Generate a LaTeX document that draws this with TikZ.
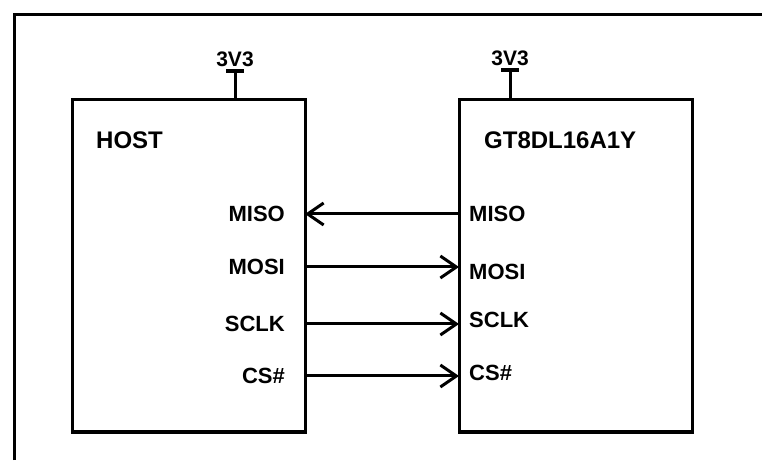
\documentclass[tikz,border=0pt]{standalone}
\usepackage{fontspec}
\setmainfont{Liberation Sans}
\usetikzlibrary{positioning, arrows.meta, calc}

\begin{document}
\begin{tikzpicture}[
    x=1pt, y=1pt,
    chipbox/.style={
        rectangle,
        draw,
        line width=3pt,
        outer sep=0pt,
        inner sep=0pt,
        minimum width=233pt,
        minimum height=332pt
    },
    chiptitle/.style={
        font=\fontsize{24}{28}\selectfont\bfseries,
        inner sep=0pt,
        anchor=west
    },
    pinlbl/.style={
        font=\fontsize{22}{26}\selectfont\bfseries,
        inner sep=0pt
    },
    pwrlbl/.style={
        font=\fontsize{21}{24}\selectfont\bfseries,
        inner sep=0pt
    },
    pwrbar/.style={
        rectangle,
        fill,
        inner sep=0pt,
        minimum width=18pt,
        minimum height=3.5pt
    },
    wire/.style={
        line width=3pt
    },
    sig/.style={
        >={Straight Barb[length=16pt,width=22pt]},
        ->,
        line width=3pt
    }
]
    \useasboundingbox (0,0) rectangle (762,460);

    % Frame
    \draw[wire] (14,0) -- (14,445) -- (762,445);

    % Chips
    \node[chipbox] (host) at (188.5,194) {};
    \node[chipbox, right=154pt of host] (chip) {};

    \node[chiptitle] (hostname) at ([xshift=24pt,yshift=-40pt]host.north west) {HOST};
    \node[chiptitle] (chipname) at ([xshift=25pt,yshift=-40pt]chip.north west) {GT8DL16A1Y};

    % Supply pins
    \node[pwrbar] (hbar) at ([xshift=163pt,yshift=29pt]host.north west) {};
    \node[pwrbar] (cbar) at ([xshift=51pt,yshift=30pt]chip.north west) {};
    \node[pwrlbl, above=2pt of hbar] (hpwr) {3V3};
    \node[pwrlbl, above=2pt of cbar] (cpwr) {3V3};
    \draw[wire] (hbar.center) -- (hbar.center |- host.north);
    \draw[wire] (cbar.center) -- (cbar.center |- chip.north);

    % Pin names
    \node[pinlbl, anchor=east] (hmiso) at (285,246) {MISO};
    \node[pinlbl, anchor=east] (hmosi) at (285,193) {MOSI};
    \node[pinlbl, anchor=east] (hsclk) at (285,136) {SCLK};
    \node[pinlbl, anchor=east] (hcs) at (285,84) {CS\#};

    \node[pinlbl, anchor=west] (cmiso) at (469,246) {MISO};
    \node[pinlbl, anchor=west] (cmosi) at (469,188) {MOSI};
    \node[pinlbl, anchor=west] (csclk) at (469,140) {SCLK};
    \node[pinlbl, anchor=west] (ccs) at (469,87) {CS\#};

    % Signals
    \draw[sig] (chip.west |- hmiso) -- (host.east |- hmiso);
    \draw[sig] (host.east |- hmosi) -- (chip.west |- hmosi);
    \draw[sig] (host.east |- hsclk) -- (chip.west |- hsclk);
    \draw[sig] (host.east |- hcs) -- (chip.west |- hcs);

\end{tikzpicture}
\end{document}
